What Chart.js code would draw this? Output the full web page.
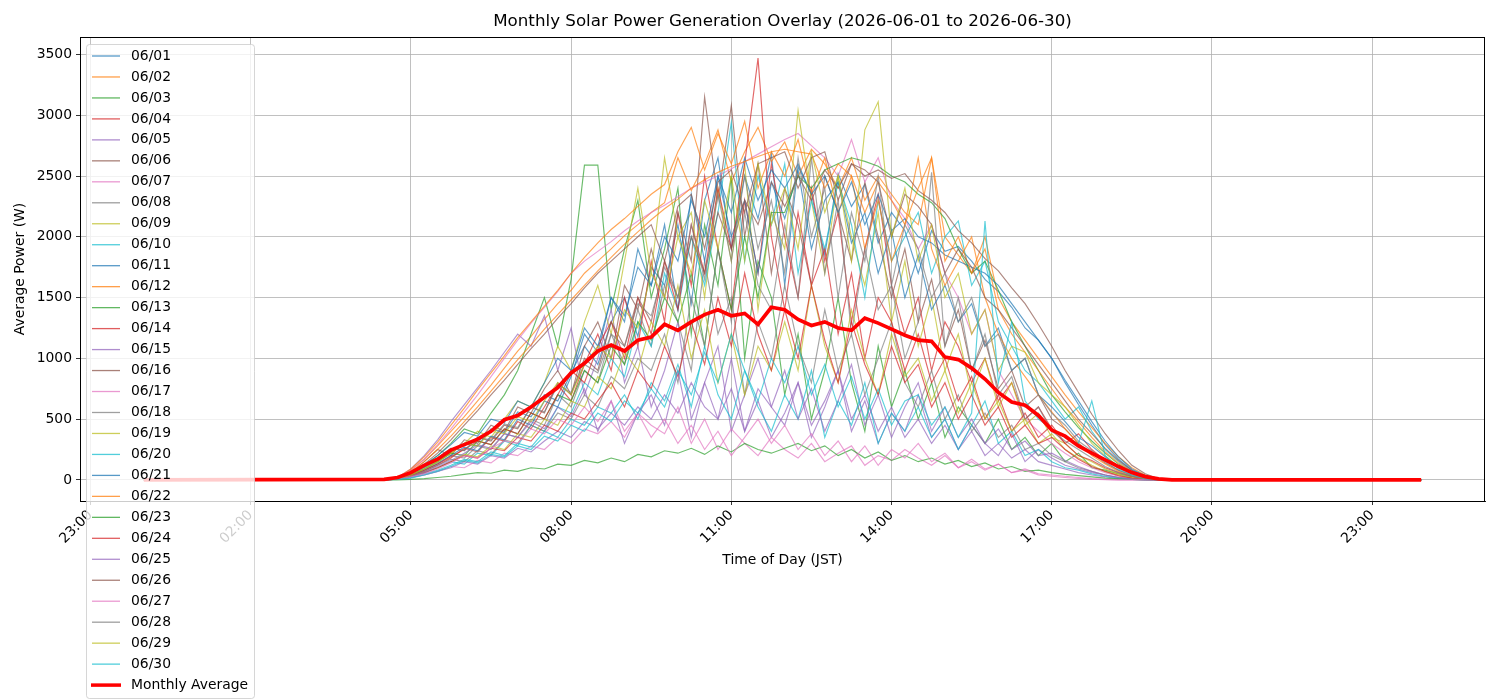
<!DOCTYPE html>
<html>
<head>
<meta charset="utf-8">
<title>Monthly Solar Power Generation Overlay</title>
<script src="https://cdn.jsdelivr.net/npm/chart.js@4.4.1/dist/chart.umd.min.js"></script>
<style>
  body { margin: 0; background: #fff; }
  #wrap { width: 1500px; height: 700px; }
</style>
</head>
<body>
<div id="wrap"><canvas id="chartOverlay" width="1500" height="700"></canvas></div>
<script>
// Daily readings (W), one value every 15 minutes from 04:30 to 19:15 (60 slots)
const jun01 = [0,10,40,100,160,230,300,280,420,390, 560,520,700,650,880,1100,950,1300,1500,1180, 1750,1600,2100,1450,2300,2650,1900,2500,2150,2680, 1600,2580,2350,1850,2520,2250,2430,1950,2200,2050, 1700,2050,1880,1920,1800,1650,1550,1420,1250,1150, 1000,800,620,450,290,170,80,35,8,0];
const jun02 = [0,20,80,170,280,400,520,650,780,920, 1060,1180,1320,1450,1560,1700,1800,1900,2010,2100, 2200,2280,2650,2380,2600,2880,2450,2700,2900,2620, 2780,2500,2720,2600,2400,2650,2300,2500,2350,2200, 2100,2650,2000,1850,1700,2000,1500,1300,1150,1000, 850,700,560,430,300,190,100,40,10,0];
const jun03 = [0,10,60,120,200,300,420,380,550,700, 900,1200,1500,1100,1650,2590,2590,1400,1900,2300, 1500,1900,2400,1200,2100,1600,2500,1000,1800,1500, 700,1200,500,900,1500,800,400,1100,600,900, 500,800,350,600,450,300,500,250,350,200, 300,150,220,100,80,50,25,10,3,0];
const jun04 = [0,10,30,70,120,180,260,230,350,320, 480,420,600,780,650,950,1200,900,1500,1100, 1800,1300,2200,1600,2500,1900,1400,2300,1700,2600, 2000,1500,2400,1800,2200,1300,1900,2350,1600,1200, 1500,900,1300,1100,800,1000,650,800,500,600, 420,300,380,250,160,100,50,20,5,0];
const jun05 = [0,20,90,200,330,480,620,760,900,1050, 1200,1100,1350,900,1250,700,1000,1400,800,1100, 600,900,1300,500,800,1100,400,700,1000,600, 450,800,350,600,900,400,650,300,550,400, 700,350,500,250,450,300,200,380,150,250, 180,120,90,60,40,20,10,5,0,0];
const jun06 = [0,15,60,150,250,200,330,300,450,400, 600,550,750,900,700,1100,1300,1000,1600,1400, 1900,1500,2200,1800,3150,2300,3080,2000,2600,1700, 2400,2100,1600,2500,2200,1800,2450,2000,1500,1900, 1300,1650,1100,1400,900,1150,750,900,600,700, 500,420,300,220,140,80,40,15,3,0];
const jun07 = [0,20,80,170,290,420,560,700,850,1000, 1150,1290,1420,1550,1700,1800,1880,1960,2050,2130, 2200,2260,2330,2400,2450,2500,2560,2620,2680,2740, 2800,2850,2750,2650,2500,2800,2450,2650,2300,2150, 1900,2100,1700,1500,1200,1400,900,700,500,400, 300,220,150,100,60,30,15,5,0,0];
const jun08 = [0,10,40,80,140,200,180,280,250,380, 350,500,450,700,600,900,800,1200,950,1400, 1100,1600,1300,900,1800,1200,1500,700,1300,1000, 1600,1100,800,1400,900,1200,700,1000,1300,800, 600,900,500,700,400,550,350,450,250,300, 200,150,100,70,40,20,8,3,0,0];
const jun09 = [0,10,40,90,150,220,300,400,350,500, 650,600,800,1100,900,1300,1600,1200,1800,2400, 1700,2650,2000,2200,1500,2400,1800,2600,1400,2200, 1900,3040,2300,1700,2500,2000,1600,2200,1300,1800, 1100,1500,900,1200,700,1000,600,800,450,550, 350,300,200,150,90,50,20,8,0,0];
const jun10 = [0,5,30,60,100,150,130,220,200,320, 280,450,400,600,550,800,700,1000,850,1300, 1100,1700,1400,2000,1600,2200,2940,1800,2500,2100, 2600,1700,2300,1900,2450,2100,1500,2300,1800,2000, 2200,1700,2000,2130,1600,1800,1300,1100,900,800, 650,500,600,400,250,150,70,25,5,0];
const jun11 = [0,10,30,80,130,200,270,240,360,330, 500,450,650,600,850,1200,1050,1500,1300,1900, 1600,2100,1400,2350,1800,2500,2000,2300,1700,2450, 2150,2550,1900,2300,2450,1950,2200,1700,2050,1500, 1850,1400,1600,1300,1450,1100,1250,900,1000,700, 600,480,350,280,190,110,60,25,5,0];
const jun12 = [0,20,90,190,310,450,590,740,880,1020, 1170,1300,1430,1560,1700,1830,1950,2060,2150,2250, 2350,2430,2700,2900,2550,2850,2600,2950,2400,2700, 2500,2800,2350,2650,2200,2500,1900,2300,1800,2100, 2650,1900,1600,1800,2000,1500,1200,1000,850,700, 560,420,300,200,130,70,30,10,0,0];
const jun13 = [0,10,40,90,150,220,200,320,290,420, 380,550,500,700,650,900,800,1100,950,1300, 1150,1500,1300,1700,1100,1900,1400,2000,1500,2200, 2200,2500,2400,2550,2600,2650,2620,2580,2500,2450, 2350,2280,2150,1900,1700,1800,1560,1300,1100,900, 700,560,430,320,220,130,60,20,5,0];
const jun14 = [0,10,35,80,130,190,250,320,290,420, 380,550,500,700,900,800,1100,1300,1000,1500, 1200,1800,1400,2100,1700,2400,1900,2600,3470,2000, 1400,2200,1600,1900,1200,1700,1000,1500,1300,900, 1200,800,1000,650,850,500,700,400,550,350, 450,300,200,160,100,60,30,10,2,0];
const jun15 = [0,5,20,40,70,100,150,130,200,180, 260,230,320,400,350,480,420,550,450,600, 500,700,550,800,600,500,750,400,650,350, 550,800,450,650,900,500,700,400,600,350, 500,300,450,250,400,200,300,180,250,150, 120,90,60,40,25,12,5,0,0,0];
const jun16 = [0,10,50,110,180,260,240,350,320,450, 420,600,550,800,700,1000,900,1300,1100,1500, 1300,1800,1500,2000,1700,2200,1900,2300,2100,2450, 2250,2500,2300,2550,2400,2600,2500,2550,2480,2520, 2380,2300,2200,2050,1950,1820,1720,1580,1450,1280, 1100,900,720,540,380,240,120,50,10,0];
const jun17 = [0,5,20,40,70,110,100,160,140,220, 200,280,250,350,300,420,380,480,350,550, 450,380,600,300,500,250,420,300,200,350, 250,180,300,150,220,280,120,200,160,250, 180,120,200,100,150,80,130,60,90,50, 40,30,20,10,5,0,0,0,0,0];
const jun18 = [0,10,30,70,120,170,150,240,210,330, 300,450,400,550,500,700,600,850,750,1000, 900,1200,800,1500,1100,1900,1300,2200,1600,1400, 2100,1500,2650,1700,2300,1200,1900,1400,1600,1000, 1300,2530,1100,1500,900,1200,700,850,500,600, 400,320,250,180,110,60,30,10,0,0];
const jun19 = [0,10,30,60,100,150,210,190,280,250, 380,350,500,450,650,600,850,750,1050,900, 1300,1100,1600,1000,1400,800,1200,700,1100,900, 1300,900,1600,1100,800,1400,1000,700,1200,850, 1000,650,900,550,800,500,650,400,500,300, 380,250,180,120,70,40,15,5,0,0];
const jun20 = [0,5,20,50,80,120,170,150,230,200, 300,270,400,350,500,450,600,550,700,500, 800,650,950,600,1100,700,500,900,600,400, 700,500,900,350,650,450,800,300,550,400, 600,350,500,250,450,650,300,400,200,250, 150,100,80,50,30,15,5,0,0,0];
const jun21 = [0,15,55,120,200,290,390,360,500,470, 650,600,800,1000,900,1250,1100,1500,1350,1750, 1600,2000,1800,2300,2000,2500,2200,2650,2300,2550, 2400,2600,2350,2500,2200,2450,2100,2350,2050,2150, 2000,1950,1850,1800,1750,1700,1600,1450,1300,1150, 1000,820,650,480,320,190,90,35,8,0];
const jun22 = [0,15,70,150,250,360,480,600,730,860, 990,1110,1240,1360,1480,1600,1720,1830,1940,2040, 2140,2230,2310,2400,2470,2530,2580,2620,2660,2700, 2720,2700,2680,2400,2600,2500,2200,2450,2300,2100, 2400,2650,1800,2000,1700,1900,1400,1200,1050,900, 750,600,480,350,230,140,70,25,5,0];
const jun23 = [0,0,5,10,20,30,45,60,55,80, 70,100,90,130,120,160,140,180,150,210, 190,240,220,260,210,280,230,300,250,220, 260,300,240,280,200,250,180,230,160,200, 150,180,130,160,110,140,90,110,70,80, 60,45,35,25,15,8,3,0,0,0];
const jun24 = [0,10,30,60,100,150,200,180,260,240, 350,320,450,400,550,500,650,800,600,900, 750,1100,850,1300,950,1500,1100,1700,1200,900, 1400,1000,1600,1150,800,1300,950,700,1100,800, 950,600,800,500,700,450,600,350,450,300, 350,250,170,110,70,35,15,5,0,0];
const jun25 = [0,10,30,60,110,160,220,290,260,380, 350,480,420,600,520,750,400,650,300,550, 700,450,900,350,800,500,1000,400,750,600, 900,500,750,400,650,950,450,700,350,600, 800,400,600,350,500,300,420,250,320,200, 220,160,110,70,40,20,8,0,0,0];
const jun26 = [0,15,60,130,220,330,450,570,700,820, 950,1080,1200,1330,1450,1580,1700,1800,1900,2000, 2100,1800,2250,2350,1900,2450,2550,2200,2600,2650, 2700,2400,2650,2700,2300,2600,2550,2450,2000,2350, 2250,2100,1700,1900,1750,1500,1400,1250,1100,950, 800,650,500,380,260,160,80,30,5,0];
const jun27 = [0,5,25,50,90,140,200,180,260,320, 300,420,380,500,450,600,480,650,400,550, 350,500,300,450,250,400,200,350,500,300, 450,250,380,200,320,150,280,120,250,180, 300,150,220,100,170,90,130,60,80,40, 30,20,12,6,2,0,0,0,0,0];
const jun28 = [0,15,50,110,180,260,240,350,330,460, 430,600,560,780,720,950,880,1200,1100,1450, 1350,1750,1500,2100,1650,2350,1800,2500,1900,2300, 1700,2650,2000,2400,1500,2200,1800,2500,1600,2100, 1900,1500,1700,1300,1500,1100,1200,900,1000,700, 550,450,320,240,150,80,35,10,0,0];
const jun29 = [0,10,40,90,150,220,300,280,400,380, 520,480,650,800,700,950,1100,1000,1400,1250, 1700,1500,2000,1700,2300,1900,2500,1800,2600,2100, 2400,1900,2700,2200,2500,1800,2880,3110,2000,2400, 1800,2100,1500,1700,1200,1400,900,1100,1050,800, 700,600,450,300,200,110,50,15,3,0];
const jun30 = [0,5,15,40,70,110,160,140,210,190, 280,250,360,320,450,400,550,480,650,550, 750,600,900,700,1050,800,1200,900,650,1000, 800,1100,700,950,600,850,500,750,450,650, 700,450,600,350,550,2130,800,1300,650,500, 420,350,300,650,200,90,40,10,0,0];

// Monthly average (W), same 15-minute slots
const monthlyAvg = [5,20,60,120,170,245,290,335,400,495, 530,600,680,760,880,960,1060,1110,1060,1150, 1175,1280,1230,1300,1360,1400,1350,1370,1280,1420, 1400,1320,1270,1300,1250,1230,1330,1290,1240,1190, 1150,1140,1010,990,920,830,720,640,615,530, 410,360,280,220,165,110,60,27,8,0];

const dailySeries = [jun01, jun02, jun03, jun04, jun05, jun06, jun07, jun08, jun09, jun10,
                     jun11, jun12, jun13, jun14, jun15, jun16, jun17, jun18, jun19, jun20,
                     jun21, jun22, jun23, jun24, jun25, jun26, jun27, jun28, jun29, jun30];
const dayLabels = ['06/01','06/02','06/03','06/04','06/05','06/06','06/07','06/08','06/09','06/10',
                   '06/11','06/12','06/13','06/14','06/15','06/16','06/17','06/18','06/19','06/20',
                   '06/21','06/22','06/23','06/24','06/25','06/26','06/27','06/28','06/29','06/30'];
const xTickHours = [-1, 2, 5, 8, 11, 14, 17, 20, 23];
const yTicks = [0, 500, 1000, 1500, 2000, 2500, 3000, 3500];

// matplotlib tab10 cycle
const palette = ['31,119,180','255,127,14','44,160,44','214,39,40','148,103,189',
                 '140,86,75','227,119,194','127,127,127','188,189,34','23,190,207'];

const FONT = "'DejaVu Sans', sans-serif";
const firstSlot = 4.5;   // 04:30
const slotStep = 0.25;   // 15 minutes
const dayEnd = 23 + 55 / 60;

// Turn a slot array into {x,y} points, flat zero before sunrise and after sunset
function toPoints(values) {
    const pts = [{ x: 0, y: 0 }];
    values.forEach((v, i) => pts.push({ x: firstSlot + i * slotStep, y: v }));
    pts.push({ x: dayEnd, y: 0 });
    return pts;
}

function hourLabel(h) {
    const hh = ((h % 24) + 24) % 24;
    return String(hh).padStart(2, '0') + ':00';
}

// Draws frame, axis titles, chart title and the overlaid legend
const overlayPlugin = {
    id: 'overlay',
    afterDraw(chart) {
        const ctx = chart.ctx;
        const a = chart.chartArea;
        ctx.save();

        // full frame around the plot
        ctx.strokeStyle = '#000';
        ctx.lineWidth = 1;
        ctx.strokeRect(Math.round(a.left) + 0.5, Math.round(a.top) + 0.5,
                       Math.round(a.right - a.left) - 1, Math.round(a.bottom - a.top));

        const midX = (a.left + a.right) / 2;
        ctx.fillStyle = '#000';
        ctx.textAlign = 'center';
        ctx.textBaseline = 'middle';
        ctx.font = '16.7px ' + FONT;
        ctx.fillText('Monthly Solar Power Generation Overlay (2026-06-01 to 2026-06-30)', midX, 22);
        ctx.font = '13.9px ' + FONT;
        ctx.fillText('Time of Day (JST)', midX, 560);
        ctx.save();
        ctx.translate(20, (a.top + a.bottom) / 2);
        ctx.rotate(-Math.PI / 2);
        ctx.fillText('Average Power (W)', 0, 0);
        ctx.restore();

        // legend box
        ctx.beginPath();
        ctx.roundRect(86.5, 44.5, 168, 654, 3);
        ctx.fillStyle = 'rgba(255,255,255,0.8)';
        ctx.fill();
        ctx.strokeStyle = 'rgba(204,204,204,0.8)';
        ctx.stroke();

        ctx.textAlign = 'left';
        ctx.font = '13.9px ' + FONT;
        const rowH = 20.97;
        dayLabels.forEach((lbl, i) => {
            const y = 56 + i * rowH;
            ctx.strokeStyle = 'rgba(' + palette[i % 10] + ',0.75)';
            ctx.lineWidth = 1.3;
            ctx.beginPath();
            ctx.moveTo(92, y);
            ctx.lineTo(120, y);
            ctx.stroke();
            ctx.fillStyle = '#000';
            ctx.fillText(lbl, 131, y);
        });
        const yAvg = 56 + 30 * rowH;
        ctx.strokeStyle = '#ff0000';
        ctx.lineWidth = 3.5;
        ctx.beginPath();
        ctx.moveTo(91, yAvg);
        ctx.lineTo(121, yAvg);
        ctx.stroke();
        ctx.fillStyle = '#000';
        ctx.fillText('Monthly Average', 131, yAvg);

        ctx.restore();
    }
};

const datasets = dailySeries.map((s, i) => ({
    label: dayLabels[i],
    data: toPoints(s),
    borderColor: 'rgba(' + palette[i % 10] + ',0.7)',
    borderWidth: 1.15,
    pointRadius: 0,
    tension: 0,
    order: 31 - i
}));
datasets.push({
    label: 'Monthly Average',
    data: toPoints(monthlyAvg),
    borderColor: '#ff0000',
    borderWidth: 3.7,
    pointRadius: 0,
    tension: 0,
    order: 0
});

const ctx = document.getElementById('chartOverlay').getContext('2d');
new Chart(ctx, {
    type: 'line',
    data: { datasets: datasets },
    options: {
        responsive: false,
        animation: false,
        events: [],
        layout: { padding: { top: 37, right: 15, left: 0, bottom: 0 } },
        plugins: {
            legend: { display: false },
            title: { display: false },
            tooltip: { enabled: false }
        },
        scales: {
            x: {
                type: 'linear',
                min: -1.1958,
                max: 25.1125,
                afterFit: scale => { scale.height = 199; },
                afterBuildTicks: scale => { scale.ticks = xTickHours.map(v => ({ value: v })); },
                grid: { color: '#b0b0b0', lineWidth: 0.8, tickColor: '#000', tickLength: 4 },
                border: { color: '#000', width: 1 },
                ticks: {
                    autoSkip: false,
                    minRotation: 45,
                    maxRotation: 45,
                    padding: 2,
                    color: '#000',
                    font: { family: FONT, size: 13.9 },
                    callback: v => hourLabel(v)
                }
            },
            y: {
                min: -173.5,
                max: 3643.5,
                afterFit: scale => { scale.width = 80; },
                afterBuildTicks: scale => { scale.ticks = yTicks.map(v => ({ value: v })); },
                grid: { color: '#b0b0b0', lineWidth: 0.8, tickColor: '#000', tickLength: 4 },
                border: { color: '#000', width: 1 },
                ticks: {
                    padding: 4,
                    color: '#000',
                    font: { family: FONT, size: 13.9 },
                    callback: v => String(v)
                }
            }
        }
    },
    plugins: [overlayPlugin]
});
</script>
</body>
</html>
